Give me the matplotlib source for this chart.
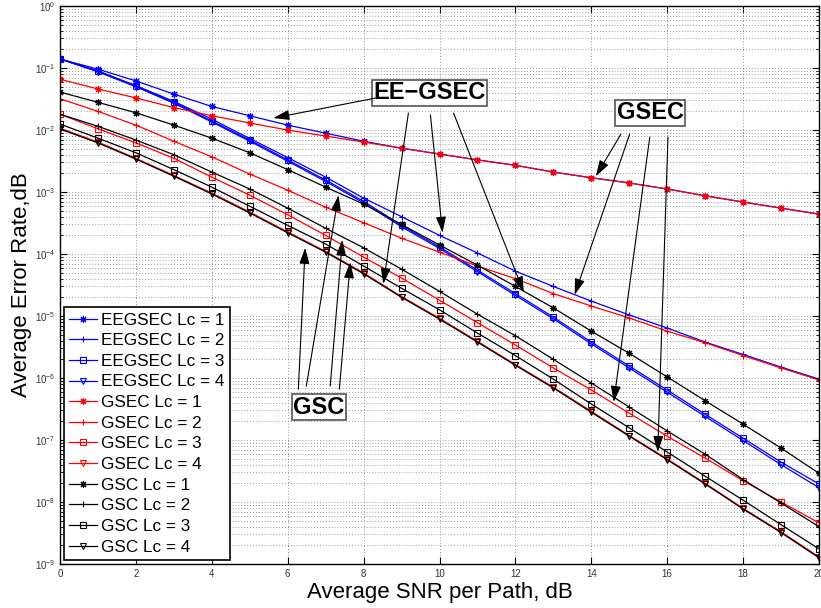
import numpy as np
import matplotlib
matplotlib.use('Agg')
import matplotlib.pyplot as plt
from matplotlib.ticker import LogLocator, NullFormatter, FixedLocator

plt.rcParams['font.family'] = ['Liberation Sans', 'DejaVu Sans']
plt.rcParams['mathtext.default'] = 'regular'

# SNR per path (dB)
snr = list(range(0, 21))

# EE-GSEC
eegsec1 = [0.14, 0.096, 0.062, 0.038, 0.024, 0.017, 0.012, 8.9e-3, 6.6e-3, 5.1e-3, 4.1e-3,
           3.3e-3, 2.7e-3, 2.1e-3, 1.7e-3, 1.4e-3, 1.12e-3, 8.7e-4, 6.9e-4, 5.5e-4, 4.4e-4]
eegsec2 = [0.14, 0.09, 0.052, 0.029, 0.015, 7.3e-3, 3.6e-3, 1.74e-3, 8.0e-4, 4.0e-4, 2.0e-4,
           1.04e-4, 5.3e-5, 3.0e-5, 1.74e-5, 1.04e-5, 6.4e-6, 3.8e-6, 2.4e-6, 1.5e-6, 9.6e-7]
eegsec3 = [0.14, 0.089, 0.051, 0.028, 0.014, 6.9e-3, 3.3e-3, 1.56e-3, 7.1e-4, 2.9e-4, 1.3e-4,
           5.5e-5, 2.3e-5, 9.6e-6, 3.8e-6, 1.56e-6, 6.4e-7, 2.6e-7, 1.07e-7, 4.4e-8, 1.95e-8]
eegsec4 = [0.14, 0.087, 0.05, 0.027, 0.0135, 6.6e-3, 3.15e-3, 1.48e-3, 6.7e-4, 2.75e-4, 1.23e-4,
           5.2e-5, 2.15e-5, 9.0e-6, 3.55e-6, 1.45e-6, 5.9e-7, 2.4e-7, 9.8e-8, 4.0e-8, 1.7e-8]

# GSEC
gsec1 = [0.066, 0.046, 0.033, 0.023, 0.017, 0.013, 0.010, 8.0e-3, 6.4e-3, 5.1e-3, 4.1e-3,
         3.3e-3, 2.7e-3, 2.1e-3, 1.7e-3, 1.4e-3, 1.12e-3, 8.7e-4, 6.9e-4, 5.5e-4, 4.4e-4]
gsec2 = [0.032, 0.020, 0.012, 6.6e-3, 3.7e-3, 1.95e-3, 1.07e-3, 5.7e-4, 3.2e-4, 1.8e-4, 1.07e-4,
         6.4e-5, 4.0e-5, 2.3e-5, 1.45e-5, 9.3e-6, 5.7e-6, 3.7e-6, 2.3e-6, 1.45e-6, 9.3e-7]
gsec3 = [0.018, 0.0105, 6.2e-3, 3.5e-3, 1.74e-3, 8.9e-4, 4.3e-4, 2.0e-4, 8.9e-5, 4.1e-5, 1.8e-5,
         7.8e-6, 3.4e-6, 1.45e-6, 6.4e-7, 2.7e-7, 1.15e-7, 5.1e-8, 2.2e-8, 1.0e-8, 4.6e-9]
gsec4 = [0.0107, 6.4e-3, 3.5e-3, 1.85e-3, 9.6e-4, 4.75e-4, 2.27e-4, 1.1e-4, 4.95e-5, 2.06e-5, 9.2e-6,
         3.9e-6, 1.65e-6, 7.1e-7, 2.9e-7, 1.18e-7, 4.95e-8, 2.0e-8, 7.9e-9, 3.3e-9, 1.3e-9]

# GSC
gsc1 = [0.041, 0.028, 0.019, 0.012, 7.4e-3, 4.3e-3, 2.3e-3, 1.2e-3, 6.4e-4, 3.0e-4, 1.4e-4,
        6.6e-5, 3.0e-5, 1.35e-5, 5.7e-6, 2.5e-6, 1.04e-6, 4.3e-7, 1.8e-7, 7.4e-8, 2.9e-8]
gsc2 = [0.018, 0.0115, 6.9e-3, 4.0e-3, 2.1e-3, 1.12e-3, 5.5e-4, 2.6e-4, 1.26e-4, 5.7e-5, 2.5e-5,
        1.07e-5, 4.8e-6, 2.0e-6, 8.3e-7, 3.4e-7, 1.4e-7, 5.9e-8, 2.3e-8, 9.6e-9, 4.0e-9]
gsc3 = [0.0125, 7.4e-3, 4.3e-3, 2.3e-3, 1.2e-3, 5.9e-4, 2.9e-4, 1.45e-4, 6.4e-5, 2.8e-5, 1.26e-5,
        5.3e-6, 2.3e-6, 9.6e-7, 3.8e-7, 1.57e-7, 6.4e-8, 2.6e-8, 1.07e-8, 4.3e-9, 1.75e-9]
gsc4 = [0.0104, 6.2e-3, 3.4e-3, 1.8e-3, 9.3e-4, 4.6e-4, 2.2e-4, 1.07e-4, 4.8e-5, 2.0e-5, 8.9e-6,
        3.8e-6, 1.6e-6, 6.9e-7, 2.8e-7, 1.15e-7, 4.8e-8, 1.95e-8, 7.7e-9, 3.2e-9, 1.26e-9]

labels = ['EEGSEC Lc = 1', 'EEGSEC Lc = 2', 'EEGSEC Lc = 3', 'EEGSEC Lc = 4',
          'GSEC Lc = 1', 'GSEC Lc = 2', 'GSEC Lc = 3', 'GSEC Lc = 4',
          'GSC Lc = 1', 'GSC Lc = 2', 'GSC Lc = 3', 'GSC Lc = 4']
series = [eegsec1, eegsec2, eegsec3, eegsec4,
          gsec1, gsec2, gsec3, gsec4,
          gsc1, gsc2, gsc3, gsc4]
colors = ['#0000ff'] * 4 + ['#ff0000'] * 4 + ['#000000'] * 4
asterisk = (8, 2, 0)
markers = [asterisk, '+', 's', 'v'] * 3
msizes = [5, 5, 4.5, 5] * 3

fig = plt.figure(figsize=(8.21, 6.08), dpi=100)
ax = fig.add_axes([0.0731, 0.0724, 0.9245, 0.9176])

for y, lab, c, m, ms in zip(series, labels, colors, markers, msizes):
    ax.semilogy(snr, y, color=c, marker=m, markersize=ms, markerfacecolor='none',
                markeredgecolor=c, markeredgewidth=0.8, linewidth=0.9, label=lab)

ax.set_xlim(0, 20)
ax.set_ylim(1e-9, 1)
ax.xaxis.set_major_locator(FixedLocator(list(range(0, 21, 2))))
ax.yaxis.set_major_locator(LogLocator(base=10, numticks=12))
ax.yaxis.set_minor_locator(LogLocator(base=10, subs=np.arange(2, 10), numticks=12))
ax.yaxis.set_minor_formatter(NullFormatter())

ax.grid(True, which='major', linestyle=(0, (1, 2.5)), color='#777777', linewidth=0.6)
ax.grid(True, which='minor', axis='y', linestyle=(0, (1, 2.5)), color='#777777', linewidth=0.6)
ax.tick_params(which='both', direction='in', top=True, right=True, labelsize=7,
               colors='black', labelcolor='#333333')
ax.tick_params(which='major', length=5, width=0.8)
ax.tick_params(which='minor', length=2.5, width=0.6)
for s in ax.spines.values():
    s.set_linewidth(1.0)

ax.set_xlabel('Average SNR per Path, dB', fontsize=16, labelpad=2)
ax.set_ylabel('Average Error Rate,dB', fontsize=16, labelpad=2)

leg = ax.legend(loc='lower left', fontsize=12.3, handlelength=1.6, handletextpad=0.25,
                labelspacing=0.33, borderpad=0.3, borderaxespad=0.25, fancybox=False,
                framealpha=1, edgecolor='black')
leg.get_frame().set_linewidth(1.2)

box = dict(boxstyle='square,pad=0.06', facecolor='white', edgecolor='#555555', linewidth=1.2)
arrow = dict(arrowstyle='-|>,head_length=0.7,head_width=0.22', color='black', linewidth=0.8,
             mutation_scale=14, shrinkA=0, shrinkB=0)

ax.text(9.74, 0.040, 'EE\u2212GSEC', fontsize=17, fontweight='bold', ha='center', va='center', bbox=box)
ax.text(15.55, 0.019, 'GSEC', fontsize=17, fontweight='bold', ha='center', va='center', bbox=box)
ax.text(6.82, 3.4e-7, 'GSC', fontsize=17, fontweight='bold', ha='center', va='center', bbox=box)

# (tail, head) pairs in data coordinates
arrows = [
    ((8.31, 0.0328), (5.62, 0.0156)),
    ((9.18, 0.0188), (8.52, 3.3e-5)),
    ((9.76, 0.0175), (10.08, 2.2e-4)),
    ((10.37, 0.0188), (12.22, 2.4e-5)),
    ((14.78, 8.6e-3), (14.12, 1.8e-3)),
    ((15.01, 8.6e-3), (13.56, 2.2e-5)),
    ((15.54, 7.7e-3), (14.59, 4.1e-7)),
    ((16.02, 7.7e-3), (15.75, 6.4e-8)),
    ((6.28, 6.6e-7), (6.46, 1.26e-4)),
    ((6.49, 7.4e-7), (7.34, 8.9e-4)),
    ((7.12, 7.4e-7), (7.44, 1.7e-4)),
    ((7.36, 6.6e-7), (7.65, 7.4e-5)),
]
for tail, head in arrows:
    ax.annotate('', xy=head, xytext=tail, arrowprops=arrow)

fig.savefig('out.png', dpi=100)
